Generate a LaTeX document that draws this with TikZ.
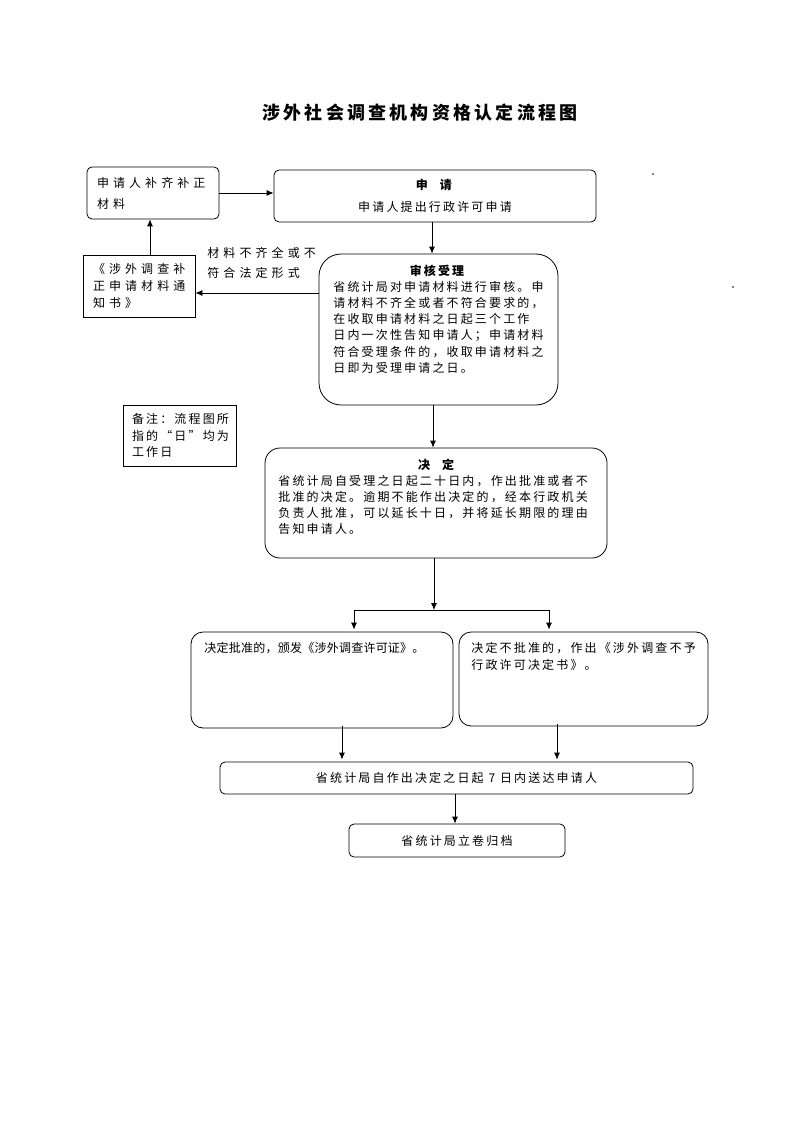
\documentclass[tikz,border=0pt]{standalone}
\usepackage{fontspec}
\setmainfont{Noto Sans CJK SC}[LetterSpace=18]
\newfontfamily\widecjk{Noto Sans CJK SC}[LetterSpace=34]
\newfontfamily\tightcjk{Noto Sans CJK SC}[LetterSpace=2]
\usetikzlibrary{arrows.meta}
\tikzset{
	rbox/.style={draw, rounded corners=5pt, inner sep=0pt},
	sbox/.style={draw, inner sep=0pt},
	txt/.style={inner sep=0pt, align=left, font=\fontsize{12}{16.3}\selectfont},
}
\begin{document}
\begin{tikzpicture}[x=1pt, y=-1pt, line width=0.8pt, >={Latex[length=7pt,width=6pt]}]
			\useasboundingbox (0,0) rectangle (794,1123);
			\node[font=\fontsize{18}{20}\selectfont\bfseries] (title) at (420,113) {涉外社会调查机构资格认定流程图};
			\node[rbox, txt, text width=112, inner xsep=10pt, minimum height=52, font=\widecjk\fontsize{12}{21}\selectfont] (supp) at (153,193) {申请人补齐补正\\材料};
			\node[rbox, txt, align=center, minimum width=322, minimum height=52, font=\fontsize{12}{22}\selectfont] (apply) at (435,196) {\textbf{申\quad 请}\\申请人提出行政许可申请};
			\node[sbox, txt, text width=92, inner xsep=10pt, minimum height=62, font=\widecjk\fontsize{12}{17}\selectfont] (notice) at (139,286) {《涉外调查补\\正申请材料通\\知书》};
			\node[rbox, rounded corners=22pt, minimum width=239, minimum height=151] (review) at (438.5,329.5) {};
			\node[txt, font=\fontsize{12}{14}\selectfont\bfseries] (reviewhead) at (437,271) {审核受理};
			\node[txt, anchor=north west] (reviewtxt) at (333,280.5) {省统计局对申请材料进行审核。申\\请材料不齐全或者不符合要求的，\\在收取申请材料之日起三个工作\\日内一次性告知申请人；申请材料\\符合受理条件的，收取申请材料之\\日即为受理申请之日。};
			\node[txt, anchor=north west, font=\widecjk\fontsize{12}{20}\selectfont] (lack) at (207,246.5) {材料不齐全或不\\符合法定形式};
			\node[sbox, txt, text width=95, inner xsep=9pt, minimum height=61] (remark) at (179.5,435.5) {备注：流程图所\\指的“日”均为\\工作日};
			\node[rbox, rounded corners=15pt, minimum width=342, minimum height=110] (decide) at (436,503) {};
			\node[txt, font=\fontsize{12}{14}\selectfont\bfseries] (decidehead) at (436,465) {决\quad 定};
			\node[txt, anchor=north west] (decidetxt) at (278,474.5) {省统计局自受理之日起二十日内，作出批准或者不\\批准的决定。逾期不能作出决定的，经本行政机关\\负责人批准，可以延长十日，并将延长期限的理由\\告知申请人。};
			\node[rbox, rounded corners=12pt, minimum width=262, minimum height=96] (grant) at (322,680) {};
			\node[txt, anchor=west, font=\tightcjk\fontsize{12}{16}\selectfont] (granttxt) at (204,648) {决定批准的，颁发《涉外调查许可证》。};
			\node[rbox, rounded corners=12pt, minimum width=249, minimum height=94] (refuse) at (583.5,679) {};
			\node[txt, anchor=north west, font=\fontsize{12}{17}\selectfont] (refusetxt) at (471,641.5) {决定不批准的，作出《涉外调查不予\\行政许可决定书》。};
			\node[rbox, txt, minimum width=473, minimum height=32] (deliver) at (456.5,778) {省统计局自作出决定之日起 7 日内送达申请人};
			\node[rbox, txt, minimum width=216, minimum height=33] (archive) at (457,840.5) {省统计局立卷归档};
			\coordinate (split) at (434,610);
			\draw[->] (supp.east) -- (supp.east -| apply.west);
			\draw[->] (apply.south -| 432,0) -- (review.north -| 432,0);
			\draw[->] (review.west |- 0,293) -- (notice.east |- 0,293);
			\draw[->] (notice.north -| 150,0) -- (supp.south -| 150,0);
			\draw[->] (review.south -| 433,0) -- (decide.north -| 433,0);
			\draw[->] (decide.south -| split) -- (split);
			\draw[->] (split) -| ([yshift=2pt]grant.north -| 354,0);
			\draw[->] (split) -| ([yshift=2pt]refuse.north -| 549,0);
			\draw[->] ([yshift=2pt]grant.south -| 342,0) -- ([yshift=2pt]deliver.north -| 342,0);
			\draw[->] ([yshift=2pt]refuse.south -| 557,0) -- ([yshift=2pt]deliver.north -| 557,0);
			\draw[->] (deliver.south -| 455,0) -- (archive.north -| 455,0);
			\fill (653,174) circle (0.8) (733,287) circle (0.8);
		\end{tikzpicture}
\end{document}
